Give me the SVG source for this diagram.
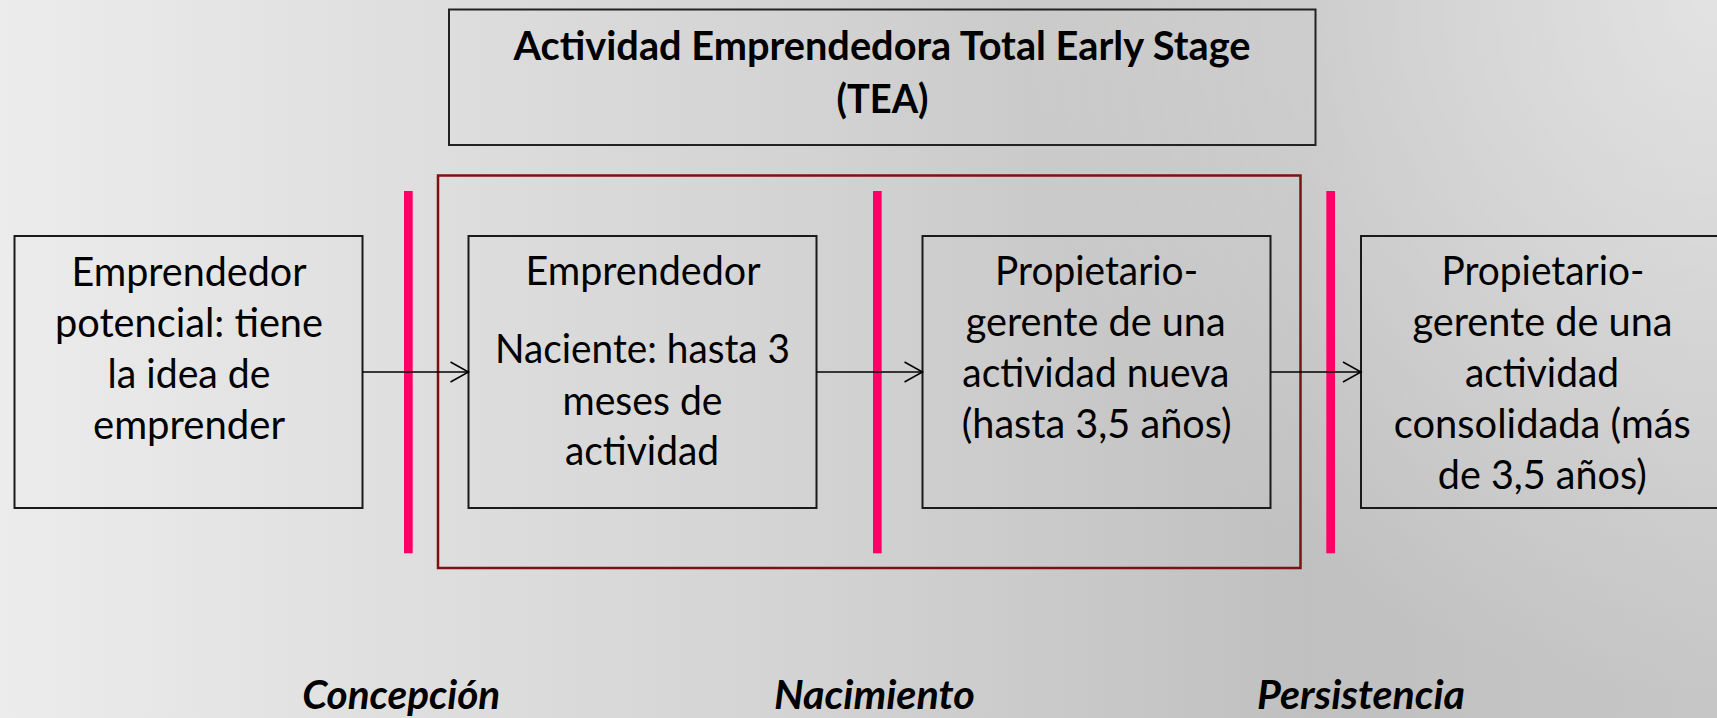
<svg xmlns="http://www.w3.org/2000/svg" width="1717" height="718" viewBox="0 0 1717 718">
<defs>
<linearGradient id="bg" x1="0" y1="0" x2="1717" y2="0" gradientUnits="userSpaceOnUse">
<stop offset="0" stop-color="#ececec"/>
<stop offset="0.23" stop-color="#dfdfdf"/>
<stop offset="0.47" stop-color="#d3d3d3"/>
<stop offset="0.76" stop-color="#c0c0c0"/>
<stop offset="1" stop-color="#c6c6c6"/>
</linearGradient>
<radialGradient id="hl" cx="1717" cy="0" r="700" gradientUnits="userSpaceOnUse">
<stop offset="0" stop-color="#ffffff" stop-opacity="0.5"/>
<stop offset="1" stop-color="#ffffff" stop-opacity="0"/>
</radialGradient>
<marker id="arr" markerUnits="userSpaceOnUse" markerWidth="22" markerHeight="24" refX="19" refY="11" orient="auto">
<path d="M1,1 L19,11 L1,21" fill="none" stroke="#000" stroke-width="1.5"/>
</marker>
<style>
.box{fill:none;stroke:#1a1a1a;stroke-width:2}
.bar{fill:#ff0066}
.conn{stroke:#000;stroke-width:1.5;fill:none;marker-end:url(#arr)}
.t{font-family:Lato,"Liberation Sans",sans-serif;font-size:40px;fill:#000;text-anchor:middle}
.tb{font-family:Lato,"Liberation Sans",sans-serif;font-size:40px;font-weight:bold;fill:#000;text-anchor:middle}
.ti{font-family:Lato,"Liberation Sans",sans-serif;font-size:40px;font-weight:bold;font-style:italic;fill:#000;text-anchor:middle}
</style>
</defs>
<rect x="0" y="0" width="1717" height="718" fill="url(#bg)"/>
<rect x="0" y="0" width="1717" height="718" fill="url(#hl)"/>

<g id="title">
<rect x="449" y="9.5" width="866.5" height="135.5" fill="none" stroke="#222" stroke-width="2"/>
<text class="tb" x="882" y="59.5" textLength="737" lengthAdjust="spacingAndGlyphs">Actividad Emprendedora Total Early Stage</text>
<text class="tb" x="882.5" y="112.8" textLength="92" lengthAdjust="spacingAndGlyphs">(TEA)</text>
</g>

<g id="tea-frame">
<rect x="438" y="175.5" width="862.5" height="392.5" fill="none" stroke="#7c1212" stroke-width="2.5"/>
</g>

<g id="separators">
<rect class="bar" x="404" y="191" width="8.7" height="362.3"/>
<rect class="bar" x="873" y="191" width="8.7" height="362.3"/>
<rect class="bar" x="1326.3" y="191" width="8.7" height="362.3"/>
</g>

<g id="node-potencial">
<rect class="box" x="14.5" y="236" width="348" height="272"/>
<text class="t" x="189" y="286" textLength="235" lengthAdjust="spacingAndGlyphs">Emprendedor</text>
<text class="t" x="189" y="336.7" textLength="268" lengthAdjust="spacingAndGlyphs">potencial: tiene</text>
<text class="t" x="189" y="387.7" textLength="163" lengthAdjust="spacingAndGlyphs">la idea de</text>
<text class="t" x="189" y="439.3" textLength="192" lengthAdjust="spacingAndGlyphs">emprender</text>
</g>

<g id="node-naciente">
<rect class="box" x="468.5" y="236" width="348" height="272"/>
<text class="t" x="643" y="285" textLength="235" lengthAdjust="spacingAndGlyphs">Emprendedor</text>
<text class="t" x="642.5" y="363.3" textLength="295" lengthAdjust="spacingAndGlyphs">Naciente: hasta 3</text>
<text class="t" x="642.5" y="415" textLength="160" lengthAdjust="spacingAndGlyphs">meses de</text>
<text class="t" x="642" y="465" textLength="154" lengthAdjust="spacingAndGlyphs">actividad</text>
</g>

<g id="node-nueva">
<rect class="box" x="922.5" y="236" width="348" height="272"/>
<text class="t" x="1096.6" y="285" textLength="203" lengthAdjust="spacingAndGlyphs">Propietario-</text>
<text class="t" x="1095.7" y="336" textLength="260" lengthAdjust="spacingAndGlyphs">gerente de una</text>
<text class="t" x="1095.8" y="387.3" textLength="267" lengthAdjust="spacingAndGlyphs">actividad nueva</text>
<text class="t" x="1096.7" y="438.3" textLength="270" lengthAdjust="spacingAndGlyphs">(hasta 3,5 años)</text>
</g>

<g id="node-consolidada">
<rect class="box" x="1361" y="236" width="364" height="272"/>
<text class="t" x="1543" y="285" textLength="203" lengthAdjust="spacingAndGlyphs">Propietario-</text>
<text class="t" x="1542.5" y="336" textLength="260" lengthAdjust="spacingAndGlyphs">gerente de una</text>
<text class="t" x="1542" y="387.3" textLength="154" lengthAdjust="spacingAndGlyphs">actividad</text>
<text class="t" x="1542.3" y="438.3" textLength="297" lengthAdjust="spacingAndGlyphs">consolidada (más</text>
<text class="t" x="1542.3" y="489.3" textLength="209" lengthAdjust="spacingAndGlyphs">de 3,5 años)</text>
</g>

<g id="connectors">
<line class="conn" x1="362.5" y1="372" x2="468.5" y2="372"/>
<line class="conn" x1="816.5" y1="372" x2="922.5" y2="372"/>
<line class="conn" x1="1270.5" y1="372" x2="1361" y2="372"/>
</g>

<g id="stages">
<text class="ti" x="401.2" y="709.3" textLength="198" lengthAdjust="spacingAndGlyphs">Concepción</text>
<text class="ti" x="874.4" y="709.3" textLength="201" lengthAdjust="spacingAndGlyphs">Nacimiento</text>
<text class="ti" x="1361" y="709.3" textLength="208" lengthAdjust="spacingAndGlyphs">Persistencia</text>
</g>
</svg>
